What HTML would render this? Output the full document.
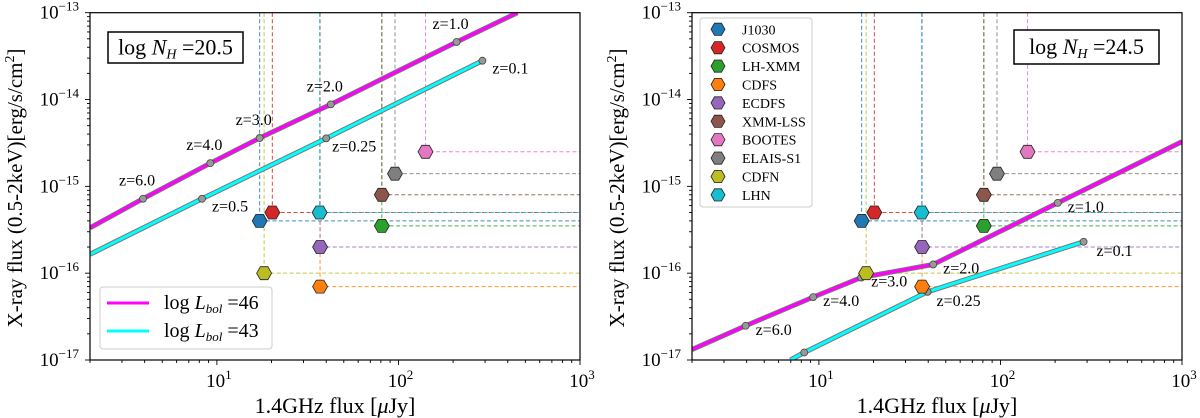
<!DOCTYPE html>
<html><head><meta charset="utf-8"><style>
body{margin:0;background:#fff;}
svg{display:block;font-family:"Liberation Serif",serif;}
</style></head><body>
<svg id="chart" width="1200" height="418" viewBox="0 0 1200 418" xmlns="http://www.w3.org/2000/svg"></svg>
<script>
// ---- data ----
const surveyNames = ["J1030","COSMOS","LH-XMM","CDFS","ECDFS","XMM-LSS","BOOTES","ELAIS-S1","CDFN","LHN"];
const surveyRadio = [17.2, 20.2, 81, 37, 37, 81, 141, 95.7, 18.2, 36.8];
const surveyXray = [4e-16, 5e-16, 3.5e-16, 7e-17, 2e-16, 8e-16, 2.5e-15, 1.4e-15, 1e-16, 5e-16];
const surveyColors = ["#1f77b4","#d62728","#2ca02c","#ff7f0e","#9467bd","#8c564b","#e377c2","#7f7f7f","#bcbd22","#17becf"];

// left panel (log NH = 20.5)
const leftHiX = [2, 3.92, 9.2, 17.2, 42.4, 209, 452];
const leftHiY = [3.33e-16, 7.2e-16, 1.85e-15, 3.6e-15, 8.8e-15, 4.6e-14, 1e-13];
const leftHiZ = ["", "z=6.0", "z=4.0", "z=3.0", "z=2.0", "z=1.0", ""];
const leftLoX = [2, 8.28, 40, 290];
const leftLoY = [1.65e-16, 7.2e-16, 3.57e-15, 2.8e-14];
const leftLoZ = ["", "z=0.5", "z=0.25", "z=0.1"];
// right panel (log NH = 24.5)
const rightHiX = [2, 3.95, 9.3, 17.1, 42.6, 207, 1000];
const rightHiY = [1.32e-17, 2.48e-17, 5.3e-17, 8.9e-17, 1.26e-16, 6.45e-16, 3.27e-15];
const rightHiZ = ["", "z=6.0", "z=4.0", "z=3.0", "z=2.0", "z=1.0", ""];
const rightLoX = [6.97, 8.3, 39.7, 287];
const rightLoY = [1e-17, 1.22e-17, 6.1e-17, 2.3e-16];
const rightLoZ = ["", "", "z=0.25", "z=0.1"];

const xTicks = [10, 100, 1000];
const xTickExp = ["1","2","3"];
const yTicks = [1e-13, 1e-14, 1e-15, 1e-16, 1e-17];
const yTickExp = ["−13","−14","−15","−16","−17"];

const NS = "http://www.w3.org/2000/svg";
const svg = document.getElementById("chart");
function mk(tag, attrs, parent){const e=document.createElementNS(NS,tag);for(const k in attrs)e.setAttribute(k,attrs[k]);(parent||svg).appendChild(e);return e;}

const TOP=12.7, BOT=360, W=490;
function panel(px0, hiX, hiY, hiZ, loX, loY, loZ, hiOff, loOff, nh, nhBox, showLegendSurveys, showLbol, pname){
  const g = mk("g",{});
  
  
  const xs = v => px0 + (Math.log10(v) - Math.log10(2)) / (3 - Math.log10(2)) * W;
  const ys = v => TOP + (-13 - Math.log10(v)) / 4 * (BOT - TOP);
  for (let i=0;i<surveyNames.length;i++){
    const x=xs(surveyRadio[i]), y=ys(surveyXray[i]);
    const d=mk("path",{d:`M${x},${TOP} L${x},${y} L${xs(1000)},${y}`,fill:"none",stroke:surveyColors[i],"stroke-width":1,"stroke-dasharray":"4,2.5",opacity:0.85},g);
    
    
  }
  const defs=mk("defs",{},g);
  const cp=mk("clipPath",{id:`clip-${pname}`},defs);
  mk("rect",{x:px0,y:TOP,width:W,height:BOT-TOP},cp);
  function line(X,Y,col,nm){
    let pts = X.map((v,i)=>xs(v)+","+ys(Y[i])).join(" ");
    mk("polyline",{points:pts,fill:"none",stroke:"#777","stroke-width":5,"clip-path":`url(#clip-${pname})`},g);
    const l=mk("polyline",{points:pts,fill:"none",stroke:col,"stroke-width":3,"clip-path":`url(#clip-${pname})`},g);
    
    
  }
  line(hiX,hiY,"#ff00ff","line-lbol-46");
  line(loX,loY,"#00ffff","line-lbol-43");
  function zpts(X,Y,Z,off){
    for(let i=0;i<X.length;i++){ if(!Z[i] && !(i>0&&i<X.length-1)) continue;
      const c=mk("circle",{cx:xs(X[i]),cy:ys(Y[i]),r:3.5,fill:"#999",stroke:"#444","stroke-width":0.8},g);
      
      
      if(Z[i]){const t=mk("text",{x:xs(X[i])+off[0],y:ys(Y[i])+off[1],"font-size":16,"text-anchor":"middle",fill:"#000"},g);t.textContent=Z[i];
        
        }
    }
  }
  zpts(hiX,hiY,hiZ,hiOff); zpts(loX,loY,loZ,loOff);
  function hex(cx,cy,r,col,parent){
    let p=[];for(let k=0;k<6;k++){const a=Math.PI/3*k;p.push((cx+r*Math.cos(a)).toFixed(1)+","+(cy+r*Math.sin(a)).toFixed(1));}
    return mk("polygon",{points:p.join(" "),fill:col,stroke:"#222","stroke-width":0.8},parent);
  }
  for (let i=0;i<surveyNames.length;i++){
    const h=hex(xs(surveyRadio[i]),ys(surveyXray[i]),7.5,surveyColors[i],g);
    
    
  }
  mk("rect",{x:px0,y:TOP,width:W,height:BOT-TOP,fill:"none",stroke:"#000","stroke-width":1.2},g);
  for(let d=0; d<4; d++){ for(let m=1;m<10;m++){ const v=m*Math.pow(10,d); if(v<2||v>1000) continue;
      const x=xs(v); const major=(m===1);
      mk("line",{x1:x,x2:x,y1:BOT,y2:BOT+(major?5:3),stroke:"#000","stroke-width":0.9},g);}}
  for(let d=-17; d<-13; d++){ for(let m=1;m<10;m++){ const y=ys(m*Math.pow(10,d));
      mk("line",{x1:px0,x2:px0-(m===1?5:3),y1:y,y2:y,stroke:"#000","stroke-width":0.9},g);}}
  mk("line",{x1:px0,x2:px0-5,y1:TOP,y2:TOP,stroke:"#000","stroke-width":0.9},g);
  xTicks.forEach((v,i)=>{const t=mk("text",{x:xs(v)+2,y:BOT+27,"font-size":19,"text-anchor":"middle"},g);
    t.innerHTML=`10<tspan dy="-8" font-size="13">${xTickExp[i]}</tspan>`;
    
    });
  yTicks.forEach((v,i)=>{const t=mk("text",{x:px0-11,y:ys(v)+6,"font-size":19,"text-anchor":"end"},g);
    t.innerHTML=`10<tspan dy="-8" font-size="13">${yTickExp[i]}</tspan>`;
    
    });
  const xl=mk("text",{x:px0+W/2,y:413,"font-size":22,"text-anchor":"middle"},g);
  xl.innerHTML=`1.4GHz flux [<tspan font-style="italic">μ</tspan>Jy]`;
  
  
  const yl=mk("text",{x:0,y:0,"font-size":21,"text-anchor":"middle",transform:`translate(${px0-68},188) rotate(-90)`},g);
  yl.innerHTML=`X-ray flux (0.5-2keV)[erg/s/cm<tspan dy="-8" font-size="14">2</tspan><tspan dy="8">]</tspan>`;
  
  
  const nb=mk("g",{},g);
  
  
  mk("rect",{x:nhBox[0],y:nhBox[1],width:nhBox[2],height:nhBox[3],fill:"#fff",stroke:"#000","stroke-width":1.5},nb);
  const nt=mk("text",{x:nhBox[0]+nhBox[2]/2,y:nhBox[1]+nhBox[3]/2+7,"font-size":22,"text-anchor":"middle"},nb);
  nt.innerHTML=`log <tspan font-style="italic">N</tspan><tspan font-size="14" font-style="italic" dy="4">H</tspan><tspan dy="-4"> =${nh}</tspan>`;
  if(showLbol){
    const lg=mk("g",{},g);
    
    
    mk("rect",{x:100,y:287,width:172,height:62,rx:3,fill:"#fff",stroke:"#ccc","stroke-width":1},lg);
    [["#ff00ff","46",303],["#00ffff","43",331]].forEach(([c,v,y])=>{
      mk("line",{x1:107,x2:149,y1:y,y2:y,stroke:c,"stroke-width":3},lg);
      const t=mk("text",{x:164,y:y+6,"font-size":20},lg);
      t.innerHTML=`log <tspan font-style="italic">L</tspan><tspan font-size="13" font-style="italic" dy="4">bol</tspan><tspan dy="-4"> =${v}</tspan>`;
    });
  }
  if(showLegendSurveys){
    const lg=mk("g",{},g);
    
    
    mk("rect",{x:700,y:18,width:112,height:189,rx:3,fill:"#fff",stroke:"#ccc","stroke-width":1},lg);
    surveyNames.forEach((n,i)=>{
      const y=29.3+i*18.4;
      hex(718,y,7,surveyColors[i],lg);
      const t=mk("text",{x:742,y:y+5,"font-size":14},lg);t.textContent=n;
    });
  }
}
panel(90, leftHiX,leftHiY,leftHiZ, leftLoX,leftLoY,leftLoZ, [-6,-13],[28,13], "20.5",[108,32,135,31], false, true, "left-panel");
panel(692, rightHiX,rightHiY,rightHiZ, rightLoX,rightLoY,rightLoZ, [28,9],[31,14], "24.5",[1014,30,145,34], true, false, "right-panel");
</script>
</body></html>
